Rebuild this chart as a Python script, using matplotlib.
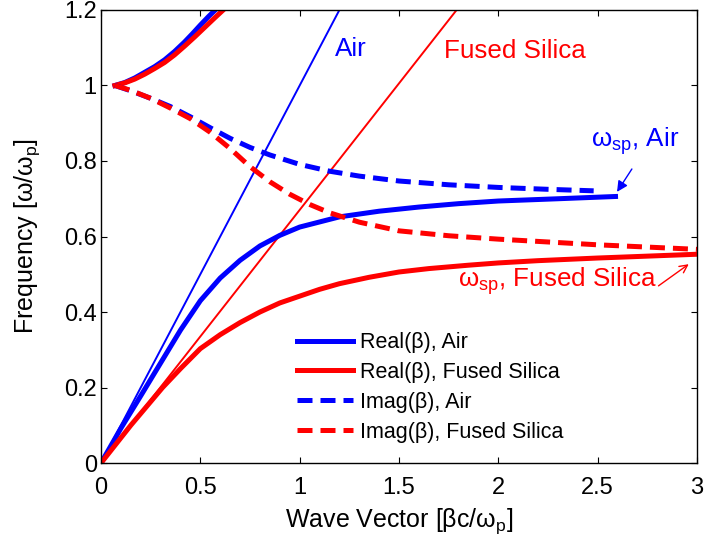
import matplotlib
matplotlib.use("Agg")
import matplotlib.pyplot as plt

plt.rcParams['font.family'] = ['Liberation Sans', 'DejaVu Sans']
plt.rcParams['mathtext.fontset'] = 'custom'
plt.rcParams['mathtext.rm'] = 'Liberation Sans'
plt.rcParams['mathtext.it'] = 'Liberation Sans'

# ---- data ----
# light lines
air_light_x = [0.0, 1.2]
air_light_y = [0.0, 1.2]
fs_light_x = [0.0, 1.79]
fs_light_y = [0.0, 1.2]

# Real(beta), Air: lower branch and upper branch
re_air_lo_x = [0.0, 0.1, 0.2, 0.3, 0.4, 0.5, 0.6, 0.7, 0.8, 0.9, 1.0, 1.2, 1.4, 1.6, 1.8, 2.0, 2.3, 2.59]
re_air_lo_y = [0.0, 0.092, 0.178, 0.265, 0.352, 0.43, 0.49, 0.537, 0.575, 0.603, 0.625, 0.652, 0.667, 0.678, 0.687, 0.694, 0.700, 0.706]
re_air_hi_x = [0.07, 0.12, 0.17, 0.22, 0.27, 0.32, 0.37, 0.42, 0.46, 0.50, 0.54, 0.575]
re_air_hi_y = [1.0, 1.008, 1.02, 1.035, 1.05, 1.068, 1.09, 1.115, 1.137, 1.16, 1.182, 1.2]

# Real(beta), Fused Silica
re_fs_lo_x = [0.0, 0.075, 0.15, 0.23, 0.31, 0.4, 0.5, 0.6, 0.7, 0.8, 0.9, 1.0, 1.1, 1.2, 1.35,
              1.5, 1.65, 1.85, 2.0, 2.2, 2.5, 2.8, 3.0]
re_fs_lo_y = [0.0, 0.05, 0.1, 0.15, 0.2, 0.25, 0.303, 0.34, 0.372, 0.4, 0.424, 0.442, 0.46, 0.475, 0.492,
              0.506, 0.515, 0.524, 0.53, 0.536, 0.543, 0.549, 0.553]
re_fs_hi_x = [0.07, 0.12, 0.17, 0.22, 0.27, 0.32, 0.37, 0.42, 0.47, 0.52, 0.57, 0.615]
re_fs_hi_y = [1.0, 1.007, 1.017, 1.03, 1.045, 1.061, 1.081, 1.104, 1.128, 1.153, 1.178, 1.2]

# Imag(beta)
im_air_x = [0.07, 0.15, 0.25, 0.35, 0.45, 0.55, 0.65, 0.75, 0.85, 1.0, 1.15, 1.3, 1.5, 1.75, 2.0, 2.25, 2.48]
im_air_y = [1.0, 0.986, 0.966, 0.944, 0.917, 0.888, 0.86, 0.836, 0.816, 0.791, 0.773, 0.76, 0.747, 0.737,
            0.730, 0.725, 0.721]
im_fs_x = [0.07, 0.15, 0.25, 0.35, 0.45, 0.55, 0.65, 0.75, 0.85, 0.95, 1.05, 1.15, 1.3, 1.5, 1.75,
           2.0, 2.5, 3.0]
im_fs_y = [1.0, 0.987, 0.966, 0.94, 0.912, 0.876, 0.833, 0.785, 0.745, 0.712, 0.685, 0.663, 0.638, 0.615,
           0.602, 0.593, 0.578, 0.566]

xticks = [0, 0.5, 1, 1.5, 2, 2.5, 3]
xticklabels = ['0', '0.5', '1', '1.5', '2', '2.5', '3']
yticks = [0, 0.2, 0.4, 0.6, 0.8, 1.0, 1.2]
yticklabels = ['0', '0.2', '0.4', '0.6', '0.8', '1', '1.2']

BLUE = (0, 0, 1)
RED = (1, 0, 0)
TH = 3.6
TN = 1.4
DASH = (0, (3.0, 1.6))

fig = plt.figure(figsize=(7.04, 5.43), dpi=100)
ax = fig.add_axes([0.1435, 0.1473, 0.8465, 0.8343])

ax.plot(air_light_x, air_light_y, color=BLUE, lw=TN)
ax.plot(fs_light_x, fs_light_y, color=RED, lw=TN)

l1, = ax.plot(re_air_lo_x, re_air_lo_y, color=BLUE, lw=TH, label='Real(β), Air')
ax.plot(re_air_hi_x, re_air_hi_y, color=BLUE, lw=TH)
l2, = ax.plot(re_fs_lo_x, re_fs_lo_y, color=RED, lw=TH, label='Real(β), Fused Silica')
ax.plot(re_fs_hi_x, re_fs_hi_y, color=RED, lw=TH)
l3, = ax.plot(im_air_x, im_air_y, color=BLUE, lw=TH, ls=DASH, label='Imag(β), Air')
l4, = ax.plot(im_fs_x, im_fs_y, color=RED, lw=TH, ls=DASH, label='Imag(β), Fused Silica')

ax.set_xlim(0, 3)
ax.set_ylim(0, 1.2)
ax.set_xticks(xticks)
ax.set_xticklabels(xticklabels)
ax.set_yticks(yticks)
ax.set_yticklabels(yticklabels)
ax.tick_params(direction='in', length=4, width=0.8, top=True, right=True, labelsize=17)
ax.tick_params(axis='x', pad=10)
ax.tick_params(axis='y', pad=3)
for s in ax.spines.values():
    s.set_linewidth(1.0)

ax.set_xlabel('Wave Vector [βc/ω$_\\mathrm{p}$]', fontsize=18, labelpad=5)
ax.set_ylabel('Frequency [ω/ω$_\\mathrm{p}$]', fontsize=18, labelpad=16)

FS = 18.7
ax.text(1.18, 1.097, 'Air', color=BLUE, fontsize=FS, va='center', ha='left')
ax.text(1.725, 1.092, 'Fused Silica', color=RED, fontsize=FS, va='center', ha='left')
ax.text(2.466, 0.853, 'ω$_\\mathrm{sp}$, Air', color=BLUE, fontsize=FS, va='center', ha='left')
ax.text(1.795, 0.483, 'ω$_\\mathrm{sp}$, Fused Silica', color=RED, fontsize=FS, va='center', ha='left')

ax.annotate('', xy=(2.59, 0.712), xytext=(2.68, 0.785),
            arrowprops=dict(arrowstyle='-|>', color=BLUE, lw=1.0, mutation_scale=16))
ax.annotate('', xy=(2.97, 0.531), xytext=(2.795, 0.465),
            arrowprops=dict(arrowstyle='->', color=RED, lw=1.0, mutation_scale=14))

ax.legend(handles=[l1, l2, l3, l4], loc='upper left', bbox_to_anchor=(0.329, 0.289),
          frameon=False, fontsize=15.5, handlelength=2.6, handletextpad=0.3,
          labelspacing=0.41, borderpad=0, borderaxespad=0)

fig.savefig('out.png', dpi=100)
